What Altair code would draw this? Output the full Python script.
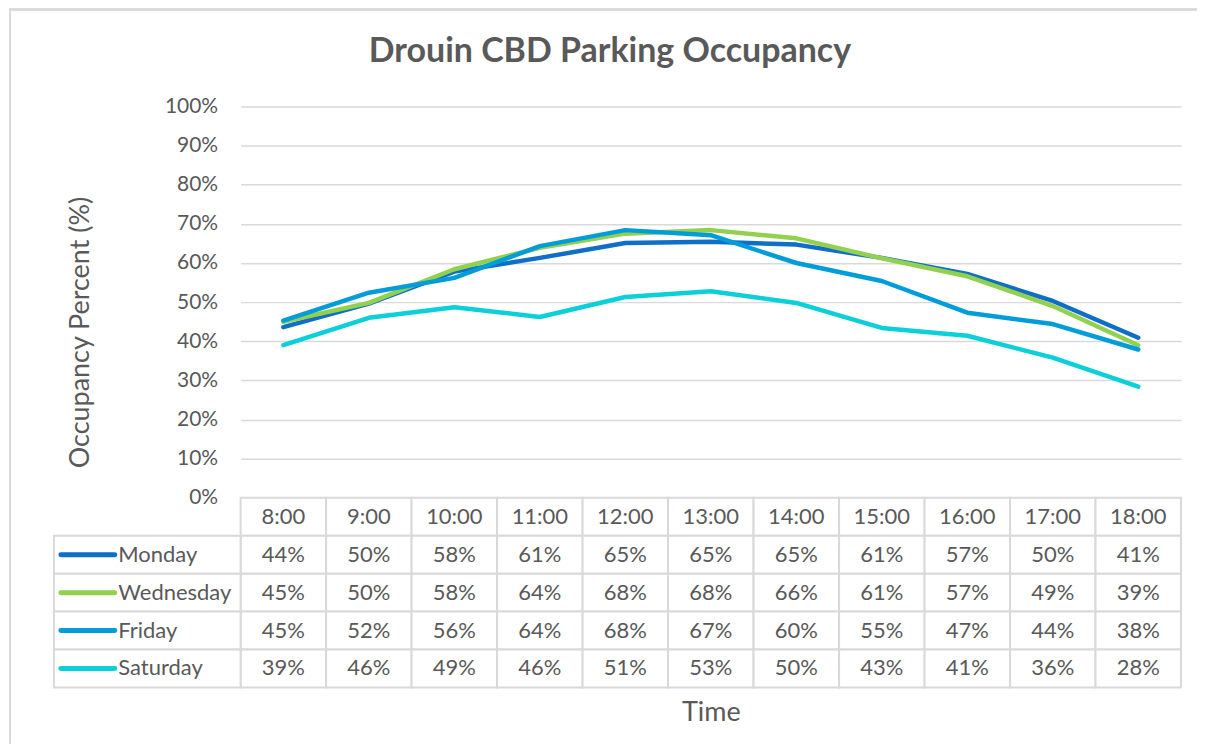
import altair as alt
import pandas as pd

times = ["8:00", "9:00", "10:00", "11:00", "12:00", "13:00",
         "14:00", "15:00", "16:00", "17:00", "18:00"]
days = ["Monday", "Wednesday", "Friday", "Saturday"]
monday = [43.6, 49.6, 57.8, 61.3, 65.1, 65.4, 64.7, 61.3, 57.2, 50.3, 40.9]
wednesday = [45.0, 49.8, 58.4, 63.9, 67.5, 68.4, 66.3, 61.2, 56.6, 49.0, 39.0]
friday = [45.3, 52.4, 56.2, 64.3, 68.4, 67.1, 60.0, 55.4, 47.3, 44.4, 37.9]
saturday = [39.0, 46.0, 48.7, 46.2, 51.3, 52.8, 49.8, 43.4, 41.4, 35.8, 28.4]
colors = ["#0F6FC6", "#92D050", "#009DD9", "#0BD0D9"]
y_ticks = [0, 0.1, 0.2, 0.3, 0.4, 0.5, 0.6, 0.7, 0.8, 0.9, 1.0]

series = {"Monday": monday, "Wednesday": wednesday, "Friday": friday, "Saturday": saturday}
rows_ = []
for d in days:
    for t, v in zip(times, series[d]):
        rows_.append({"time": t, "day": d, "row": d, "occ": v / 100.0})
df = pd.DataFrame(rows_)
hdr = pd.DataFrame({"time": times, "row": ["hdr"] * len(times)})
cells = pd.concat([hdr, df[["time", "row"]]], ignore_index=True)
left = pd.DataFrame({"row": days, "day": days})

FONT = "Lato"
TXT = "#595959"
GRID = "#d9d9d9"
row_domain = ["hdr"] + days

color = alt.Color("day:N", scale=alt.Scale(domain=days, range=colors), legend=None)

lines = alt.Chart(df).mark_line(strokeWidth=4.5, strokeCap="round", strokeJoin="round").encode(
    x=alt.X("time:N", sort=times, scale=alt.Scale(type="point", domain=times, padding=0.5), axis=None),
    y=alt.Y("occ:Q", scale=alt.Scale(domain=[0, 1]),
            axis=alt.Axis(format=".0%", values=y_ticks, ticks=False, domain=False,
                          labelFontSize=21, labelColor=TXT, labelPadding=23,
                          gridColor=GRID, gridWidth=1.5,
                          title="Occupancy Percent (%)", titleFontSize=27,
                          titleFontWeight="normal", titleColor=TXT,
                          titlePadding=70, titleY=226)),
    color=color,
    detail="day:N",
)

# chart frame (top and left edges)
frame_top = alt.Chart(left).mark_rule(color=GRID, strokeWidth=2).encode(
    x=alt.value(-232), x2=alt.value(958), y=alt.value(-97))
frame_left = alt.Chart(left).mark_rule(color=GRID, strokeWidth=2).encode(
    x=alt.value(-231), y=alt.value(-97), y2=alt.value(638))

top = alt.layer(frame_top, frame_left, lines).properties(width=942, height=392)

xt = alt.X("time:N", sort=times,
           scale=alt.Scale(domain=times, paddingInner=0, paddingOuter=0),
           axis=alt.Axis(labels=False, ticks=False, domain=False, grid=False,
                         title="Time", titleFontSize=27, titleFontWeight="normal",
                         titleColor=TXT, titlePadding=12))
yt = alt.Y("row:N", sort=row_domain,
           scale=alt.Scale(domain=row_domain, paddingInner=0, paddingOuter=0),
           axis=alt.Axis(labelExpr="datum.value == 'hdr' ? '' : datum.value",
                         labelAlign="left", labelPadding=123, ticks=False, domain=False,
                         grid=False, labelFontSize=22, labelColor=TXT, title=None))

cell_rects = alt.Chart(cells).mark_rect(fill="white", stroke=GRID, strokeWidth=2).encode(x=xt, y=yt)
left_rects = alt.Chart(left).mark_rect(fill="white", stroke=GRID, strokeWidth=2).encode(
    x=alt.value(-187), x2=alt.value(0), y=yt)
keys = alt.Chart(left).mark_rule(strokeWidth=5, strokeCap="round").encode(
    x=alt.value(-180), x2=alt.value(-126), y=yt, color=color)
hdr_text = alt.Chart(hdr).mark_text(fontSize=22, color=TXT, font=FONT).encode(
    x=xt, y=yt, text="time:N")
val_text = alt.Chart(df).mark_text(fontSize=22, color=TXT, font=FONT).encode(
    x=xt, y=yt, text=alt.Text("occ:Q", format=".0%"))

table = alt.layer(cell_rects, left_rects, keys, hdr_text, val_text).properties(width=942, height=190)

chart = alt.vconcat(top, table, spacing=0, bounds="flush").resolve_scale(
    x="independent", y="independent"
).properties(
    title=alt.Title("Drouin CBD Parking Occupancy", fontSize=34, fontWeight="bold",
                    color=TXT, font=FONT, anchor="middle", offset=-60, dx=7),
    padding=0,
).configure_view(strokeWidth=0).configure_axis(labelFont=FONT, titleFont=FONT)

chart.save("out.html", embed_options={"renderer": "svg", "actions": False})
